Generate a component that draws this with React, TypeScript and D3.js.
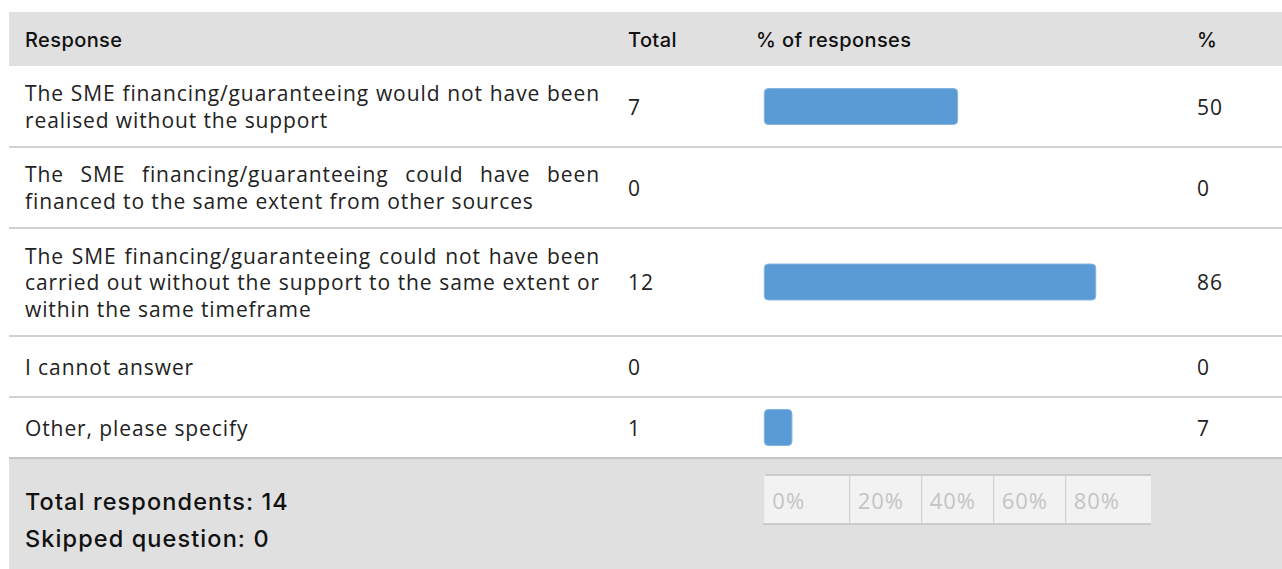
import React, { useLayoutEffect, useRef } from "react";
import * as d3 from "d3";

const headers = ["Response", "Total", "% of responses", "%"];
const categories = [
  "The SME financing/guaranteeing would not have been\nrealised without the support",
  "The SME financing/guaranteeing could have been\nfinanced to the same extent from other sources",
  "The SME financing/guaranteeing could not have been\ncarried out without the support to the same extent or\nwithin the same timeframe",
  "I cannot answer",
  "Other, please specify",
];
const totals = [7, 0, 12, 0, 1];
const percentLabels = [50, 0, 86, 0, 7];
const totalRespondents = 14;
const skippedQuestion = 0;
const axisTicks = ["0%", "20%", "40%", "60%", "80%"];

const W = 1282;
const H = 569;
const LEFT = 9;
const HEADER_TOP = 12;
const HEADER_H = 54;
const LINE_H = 26.5;
const TEXT_X = 25;
const TEXT_W = 575;
const COL_TOTAL = 628;
const COL_BAR = 764.3;
const COL_PCT = 1197;
const BAR_H = 36;
const FONT = "'Open Sans', Inter, sans-serif";
const BOLD_FONT = "Inter, 'Open Sans', sans-serif";
const BODY_SIZE = 21;
const BODY_LS = 0.9;

export default function App() {
  const ref = useRef<SVGSVGElement>(null);

  const x = d3.scaleLinear().domain([0, 100]).range([COL_BAR, 1151]);

  const rows = categories.map((c, i) => {
    const lines = c.split("\n");
    const h = Math.max(61, lines.length * 27 + 27);
    return { lines, h, total: totals[i], pct: percentLabels[i] };
  });
  let acc = HEADER_TOP + HEADER_H;
  const rowPos = rows.map((r) => {
    const y0 = acc;
    acc += r.h;
    return { ...r, y0, y1: acc, cy: (y0 + acc) / 2 };
  });
  const footerTop = acc;

  useLayoutEffect(() => {
    if (!ref.current) return;
    d3.select(ref.current)
      .selectAll<SVGTextElement, unknown>("text.justify")
      .each(function () {
        const el = this;
        el.setAttribute("word-spacing", "0");
        const len = el.getComputedTextLength();
        const spaces = (el.textContent || "").split(" ").length - 1;
        if (spaces > 0) {
          el.setAttribute("word-spacing", String((TEXT_W - len) / spaces));
        }
      });
  }, []);

  const axisMid = (x(0) + x(100)) / 2;
  const dividerStep = 72;
  const dividers = axisTicks.slice(1).map((_, i) => axisMid + (i - 1.5) * dividerStep);
  const cellStarts = [x(0), ...dividers];
  const axisTop = 475;
  const axisBottom = 524;

  return (
    <svg
      ref={ref}
      width={W}
      height={H}
      style={{ position: "absolute", left: 0, top: 0, fontFamily: FONT }}
    >
      <rect x={0} y={0} width={W} height={H} fill="#ffffff" />
      {/* header */}
      <rect x={LEFT} y={HEADER_TOP} width={W - LEFT} height={HEADER_H} fill="#e0e0e0" />
      {[TEXT_X, COL_TOTAL, 756, COL_PCT].map((hx, i) => (
        <text
          key={i}
          x={hx}
          y={HEADER_TOP + HEADER_H / 2 + 1}
          dominantBaseline="central"
          fontFamily={BOLD_FONT}
          fontSize={20}
          fontWeight={500}
          letterSpacing={0.4}
          fill="#111"
        >
          {headers[i]}
        </text>
      ))}

      {/* rows */}
      {rowPos.map((r, i) => {
        const n = r.lines.length;
        const firstY = r.cy - ((n - 1) * LINE_H) / 2;
        return (
          <g key={i}>
            {r.lines.map((ln, j) => (
              <text
                key={j}
                className={j < n - 1 ? "justify" : ""}
                x={TEXT_X}
                y={firstY + j * LINE_H}
                dominantBaseline="central"
                fontSize={BODY_SIZE}
                letterSpacing={BODY_LS}
                fill="#222"
              >
                {ln}
              </text>
            ))}
            <text x={COL_TOTAL} y={r.cy} dominantBaseline="central" fontSize={BODY_SIZE} letterSpacing={BODY_LS} fill="#222">
              {r.total}
            </text>
            {r.total > 0 && (
              <rect
                x={x(0)}
                y={r.cy - BAR_H / 2}
                width={x((r.total / totalRespondents) * 100) - x(0)}
                height={BAR_H}
                rx={4}
                fill="#5b9bd5"
                stroke="#86b4e0"
                strokeWidth={1}
              />
            )}
            <text x={COL_PCT} y={r.cy} dominantBaseline="central" fontSize={BODY_SIZE} letterSpacing={BODY_LS} fill="#222">
              {r.pct}
            </text>
            <line x1={LEFT} x2={W} y1={r.y1} y2={r.y1} stroke="#c2c2c2" strokeWidth={1.6} />
          </g>
        );
      })}

      {/* footer */}
      <rect x={LEFT} y={footerTop + 1} width={W - LEFT} height={H - footerTop} fill="#e0e0e0" />
      <line x1={LEFT} x2={W} y1={footerTop} y2={footerTop} stroke="#c2c2c2" strokeWidth={1.6} />
      <text x={TEXT_X} y={501} dominantBaseline="central" fontFamily={BOLD_FONT} fontSize={23.5} fontWeight={500} letterSpacing={1.1} fill="#111">
        {`Total respondents: ${totalRespondents}`}
      </text>
      <text x={TEXT_X} y={538} dominantBaseline="central" fontFamily={BOLD_FONT} fontSize={23.5} fontWeight={500} letterSpacing={1.1} fill="#111">
        {`Skipped question: ${skippedQuestion}`}
      </text>

      {/* percentage axis */}
      <rect x={x(0)} y={axisTop} width={x(100) - x(0)} height={axisBottom - axisTop} fill="#f2f2f2" />
      <line x1={x(0) + 1} x2={x(100)} y1={axisTop} y2={axisTop} stroke="#c2c2c2" strokeWidth={1.6} />
      <line x1={x(0) - 1} x2={x(100)} y1={axisBottom} y2={axisBottom} stroke="#c2c2c2" strokeWidth={1.6} />
      {dividers.map((dx, i) => (
        <line key={i} x1={dx} x2={dx} y1={axisTop + 1} y2={axisBottom - 1} stroke="#d2d2d2" strokeWidth={1.2} />
      ))}
      {axisTicks.map((t, i) => (
        <text
          key={t}
          x={cellStarts[i] + 8}
          y={500}
          dominantBaseline="central"
          fontSize={22}
          letterSpacing={1}
          fill="#c4c4c4"
        >
          {t}
        </text>
      ))}
    </svg>
  );
}
